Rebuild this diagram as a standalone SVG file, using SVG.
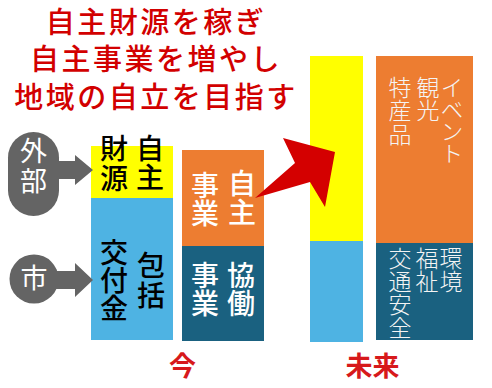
<svg xmlns="http://www.w3.org/2000/svg" width="492" height="388" viewBox="0 0 492 388">
<style>
text { font-family: "Noto Sans CJK JP", "Noto Sans", sans-serif; }
.title { fill: #d20000; font-size: 29px; font-weight: 500; text-anchor: middle; letter-spacing: 2.5px; }
.v { writing-mode: vertical-rl; text-orientation: upright; }
.big { font-size: 28px; }
.blk { fill: #000000; font-weight: 500; }
.wht { fill: #ffffff; font-weight: 500; }
.thin { fill: #f4f4f4; font-size: 23px; font-weight: 300; }
.side { fill: #ffffff; font-size: 27px; }
.era { fill: #d7191b; font-size: 27px; font-weight: 700; text-anchor: middle; }
.yel { fill: #ffff00; }
.blu { fill: #4eb3e3; }
.org { fill: #ed7d31; }
.dark { fill: #1a6180; }
.gray { fill: #646464; }
</style>

<g id="title">
<text class="title" x="156" y="33">自主財源を稼ぎ</text>
<text class="title" x="156" y="70">自主事業を増やし</text>
<text class="title" x="156" y="108">地域の自立を目指す</text>
</g>

<g id="now-funds">
<rect class="yel" x="91" y="146" width="82" height="52"/>
<rect class="blu" x="91" y="198" width="82" height="142"/>
<text class="v big blk" x="114" y="134.4" letter-spacing="2">財源</text>
<text class="v big blk" x="150" y="134.4" letter-spacing="1">自主</text>
<text class="v big blk" x="114" y="238.4" letter-spacing="0">交付金</text>
<text class="v big blk" x="151" y="251.4" letter-spacing="2">包括</text>
</g>

<g id="now-business">
<rect class="org" x="182" y="150" width="82" height="96"/>
<rect class="dark" x="182" y="246" width="82" height="95"/>
<text class="v big wht" x="205" y="171.4" letter-spacing="0">事業</text>
<text class="v big wht" x="242" y="169.4" letter-spacing="1">自主</text>
<text class="v big wht" x="205" y="261.4" letter-spacing="0">事業</text>
<text class="v big wht" x="241" y="261.4" letter-spacing="0">協働</text>
</g>

<g id="future-funds">
<rect class="yel" x="310" y="56" width="53" height="185"/>
<rect class="blu" x="310" y="241" width="53" height="101"/>
</g>

<g id="future-business">
<rect class="org" x="376" y="56" width="97" height="187"/>
<rect class="dark" x="376" y="243" width="97" height="97"/>
<text class="v thin" x="400" y="75.3" letter-spacing="0.5">特産品</text>
<text class="v thin" x="428" y="75.3" letter-spacing="0.5">観光</text>
<text class="v thin" x="452" y="75.3" letter-spacing="-1">イベント</text>
<text class="v thin" x="400" y="246.3" letter-spacing="0.3">交通安全</text>
<text class="v thin" x="427" y="246.3" letter-spacing="0.3">福祉</text>
<text class="v thin" x="451" y="246.3" letter-spacing="0.3">環境</text>
</g>

<g id="outside">
<rect class="gray" x="8" y="132" width="51" height="84" rx="25.5"/>
<text class="v side" x="33.5" y="137.2" letter-spacing="3">外部</text>
</g>

<g id="city">
<circle class="gray" cx="34" cy="279" r="24.5"/>
<text class="side" x="34" y="288" text-anchor="middle">市</text>
</g>

<g id="connectors">
<polygon class="gray" points="56,161 75,161 75,155 93,170 75,185 75,179 56,179"/>
<polygon class="gray" points="56,271 75,271 75,263 93,280 75,297 75,289 56,289"/>
<polygon fill="#d40000" points="255,198 295,163 283,138 335,152 325,207 310,182"/>
</g>

<g id="labels">
<text class="era" x="182.5" y="376">今</text>
<text class="era" x="372.5" y="376">未来</text>
</g>
</svg>
